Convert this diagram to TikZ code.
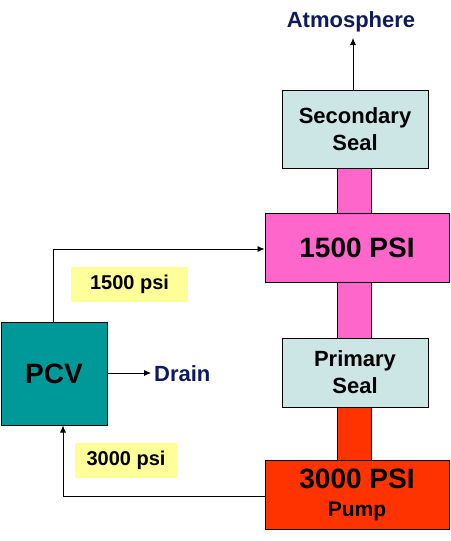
\documentclass[tikz,border=0pt]{standalone}
\usepackage{fontspec}
\setmainfont{Liberation Sans}
\usetikzlibrary{arrows.meta}
\definecolor{teal1}{HTML}{009999}
\definecolor{seal}{HTML}{CCE6E6}
\definecolor{pink1}{HTML}{FF66CC}
\definecolor{red1}{HTML}{FF3300}
\definecolor{yel}{HTML}{FFFF99}
\definecolor{navy}{HTML}{0D1A5E}
\newcommand{\fs}[2]{\fontsize{#1}{#2}\selectfont}
\tikzset{
  box/.style={draw=black, line width=1pt, inner sep=0pt, align=center},
  bar/.style={draw=black, line width=0.8pt, inner sep=0pt, minimum width=34pt},
  lbl/.style={fill=yel, inner sep=0pt, font=\bfseries\fs{20}{24}},
  conn/.style={line width=0.8pt, draw=black},
  arr/.style={conn, -{Latex[length=7pt,width=6pt]}},
  outtxt/.style={text=navy, font=\bfseries\fs{22}{26}, inner sep=0pt}
}
\begin{document}
\begin{tikzpicture}[x=1pt,y=-1pt]
\useasboundingbox (0,0) rectangle (450,541);
% connector bars
\node[bar, fill=pink1, minimum height=47pt] (b1) at (354,190.5) {};
\node[bar, fill=pink1, minimum height=58pt] (b2) at (354,310) {};
\node[bar, fill=red1, minimum height=55pt] (b3) at (354,433.5) {};
% boxes
\node[box, fill=seal, minimum width=146pt, minimum height=78pt, font=\bfseries\fs{22}{27}] (sec) at (355,129)
  {Secondary\\Seal};
\node[box, fill=pink1, minimum width=184pt, minimum height=69pt, font=\bfseries\fs{28}{30}] (p15) at (357,247.5)
  {1500 PSI};
\node[box, fill=seal, minimum width=146pt, minimum height=69pt, font=\bfseries\fs{22}{27}] (pri) at (355,372.5)
  {Primary\\Seal};
\node[box, fill=red1, minimum width=184pt, minimum height=69pt, font=\bfseries\fs{28}{28}] (p30) at (357,494.5)
  {3000 PSI\\\fs{21}{28}Pump};
\node[box, fill=teal1, minimum width=106pt, minimum height=103pt, font=\bfseries\fs{28}{30}] (pcv) at (54,373.5)
  {PCV};
% labels
\node[lbl, minimum width=117pt, minimum height=35pt] (l15) at (129.5,284.5) {1500 psi};
\node[lbl, minimum width=102pt, minimum height=35pt] (l30) at (126,460.5) {3000 psi};
\node[outtxt, anchor=base] (atm) at (351,27) {Atmosphere};
\node[outtxt, anchor=base west] (drn) at (154,381) {Drain};
% connectors
\draw[arr] (sec.north -| 353,0) -- (353,38);
\draw[arr] (pcv.north -| 53,0) |- (p15.west |- 0,249);
\draw[arr] (pcv.east |- 0,373) -- ([xshift=-3pt]drn.west |- 0,373);
\draw[arr] (p30.west |- 0,496) -| (pcv.south -| 63,0);
\end{tikzpicture}
\end{document}
